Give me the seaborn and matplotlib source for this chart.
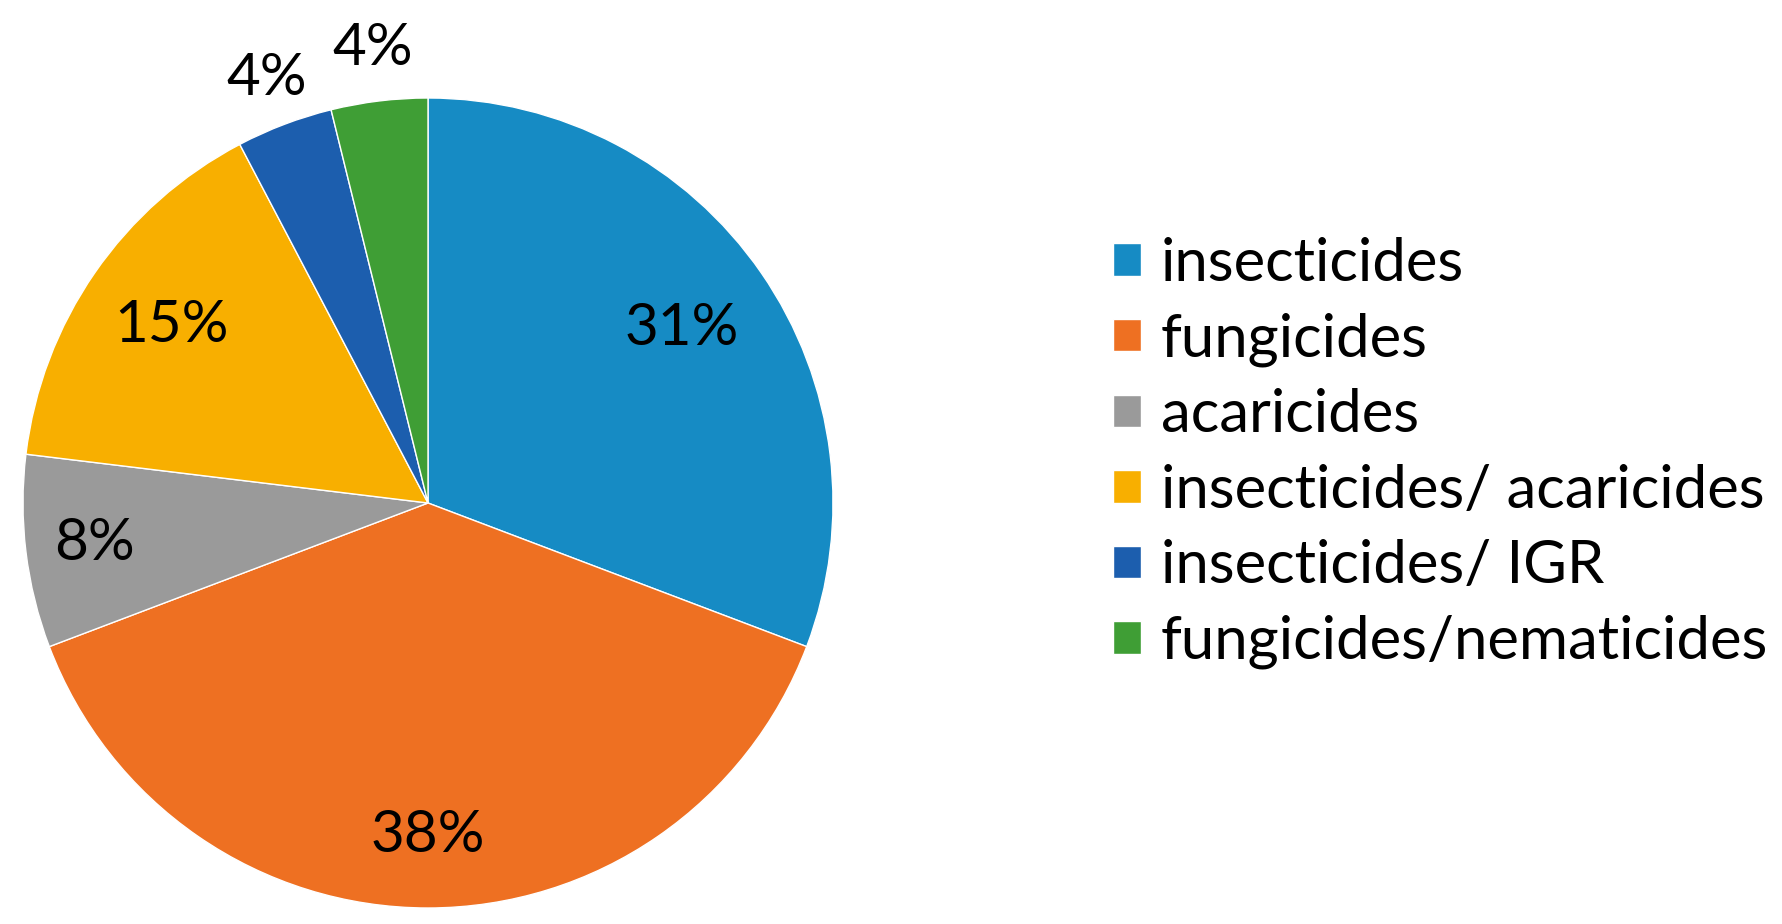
import matplotlib
matplotlib.use("Agg")
import matplotlib.pyplot as plt
import seaborn as sns
import numpy as np

# data: number of products per class (shares shown as percentages)
categories = ["insecticides", "fungicides", "acaricides",
              "insecticides/ acaricides", "insecticides/ IGR",
              "fungicides/nematicides"]
counts = [8, 10, 2, 4, 1, 1]
colors = ["#168BC4", "#EE7022", "#9A9A9A", "#F8AF00", "#1C5EAE", "#3F9E35"]
label_dist = [0.76, 0.82, 0.83, 0.77, 1.12, 1.13]

sns.set_theme(style="white")
plt.rcParams["font.family"] = ["Lato", "DejaVu Sans"]

fig = plt.figure(figsize=(17.82, 9.24), dpi=100)
ax = fig.add_axes([23 / 1782, 16 / 924, 810 / 1782, 810 / 924])

wedges, _ = ax.pie(
    counts,
    colors=colors,
    startangle=90,
    counterclock=False,
    wedgeprops=dict(edgecolor="white", linewidth=1),
)

total = sum(counts)
for w, c, d in zip(wedges, counts, label_dist):
    ang = np.deg2rad((w.theta1 + w.theta2) / 2)
    ax.text(d * np.cos(ang), d * np.sin(ang), f"{100 * c / total:.0f}%",
            ha="center", va="center", fontsize=42, color="black")

ax.set_xlim(-1, 1)
ax.set_ylim(-1, 1)
ax.axis("off")

fig.legend(
    wedges, categories,
    loc="center left",
    bbox_to_anchor=(1059 / 1782, 471 / 924),
    frameon=False,
    fontsize=43,
    labelcolor="black",
    handlelength=0.47,
    handleheight=0.47,
    handletextpad=0.33,
    labelspacing=0.36,
)

fig.savefig("out.png", dpi=100)
